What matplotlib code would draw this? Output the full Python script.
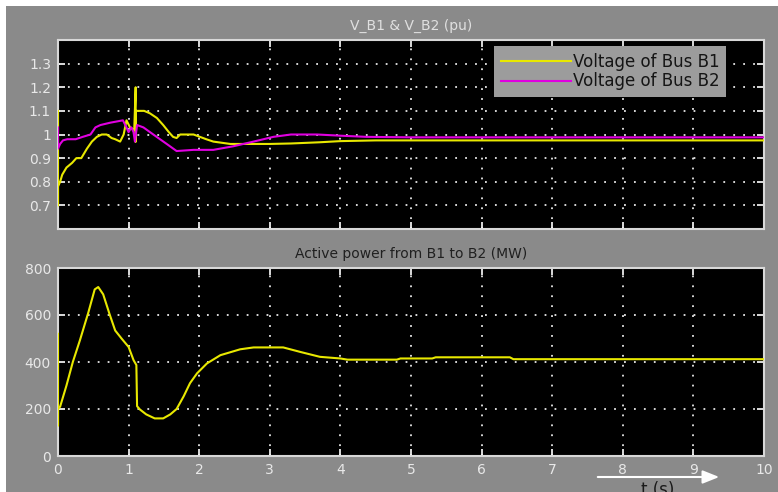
import numpy as np
import matplotlib
matplotlib.use("Agg")
import matplotlib.pyplot as plt
from matplotlib.patches import Rectangle

# voltage of bus B1 (pu)
t_b1 = [0, 0, 0, 0.03, 0.06, 0.12, 0.2, 0.26, 0.33, 0.41, 0.48, 0.55, 0.62, 0.69,
        0.76, 0.81, 0.88, 0.93, 0.97, 1.02, 1.08, 1.1, 1.1, 1.1, 1.12, 1.14, 1.22,
        1.30, 1.40, 1.49, 1.57, 1.63, 1.68, 1.73, 1.84, 1.92, 2.01, 2.1, 2.2, 2.32,
        2.44, 2.6, 3.0, 3.3, 3.7, 4.0, 4.5, 10]
v_b1 = [1.1, 0.7, 0.78, 0.80, 0.83, 0.86, 0.88, 0.90, 0.90, 0.94, 0.97, 0.99, 1.0, 1.0,
        0.985, 0.98, 0.97, 1.0, 1.06, 1.03, 1.02, 1.2, 0.97, 1.1, 1.1, 1.1, 1.1,
        1.09, 1.07, 1.04, 1.01, 0.99, 0.985, 1.0, 1.0, 1.0, 0.99, 0.98, 0.97, 0.965,
        0.96, 0.96, 0.96, 0.962, 0.967, 0.972, 0.975, 0.975]

# voltage of bus B2 (pu)
t_b2 = [0, 0, 0.03, 0.07, 0.13, 0.25, 0.35, 0.46, 0.53, 0.6, 0.74, 0.92, 0.97, 1.0,
        1.04, 1.07, 1.09, 1.12, 1.21, 1.35, 1.54, 1.68, 1.92, 2.2, 2.48, 2.77, 3.05,
        3.3, 3.67, 4.0, 4.37, 5, 10]
v_b2 = [1.03, 0.94, 0.96, 0.975, 0.98, 0.98, 0.99, 1.0, 1.03, 1.04, 1.05, 1.06, 1.03, 1.01,
        1.03, 1.01, 0.97, 1.04, 1.03, 1.0, 0.96, 0.93, 0.935, 0.935, 0.95, 0.97, 0.99,
        1.0, 1.0, 0.995, 0.99, 0.988, 0.988]

# active power B1 -> B2 (MW)
t_p = [0, 0, 0, 0.03, 0.12, 0.21, 0.31, 0.43, 0.52, 0.57, 0.64, 0.73, 0.81, 0.9, 1.0,
       1.07, 1.11, 1.12, 1.16, 1.25, 1.37, 1.49, 1.59, 1.68, 1.78, 1.87, 1.97, 2.11,
       2.3, 2.58, 2.77, 3.19, 3.43, 3.71, 4.0, 4.1, 4.8, 4.85, 5.3, 5.35, 6.4, 6.45, 10]
p = [520, 130, 200, 210, 300, 400, 492, 611, 709, 719, 688, 604, 534, 500, 464,
     408, 387, 212, 198, 177, 160, 160, 177, 200, 254, 310, 352, 394,
     429, 454, 462, 462, 443, 422, 415, 410, 410, 415, 415, 420, 420, 412, 412]

xticks = np.arange(0, 11, 1)
vticks = [0.7, 0.8, 0.9, 1, 1.1, 1.2, 1.3]
vtick_labels = ["0.7", "0.8", "0.9", "1", "1.1", "1.2", "1.3"]
pticks = [0, 200, 400, 600, 800]

W, H = 778, 492
fig = plt.figure(figsize=(W / 100, H / 100), dpi=100)
fig.patch.set_facecolor("white")
fig.patches.append(Rectangle((6 / W, 0), 1 - 6 / W, 1 - 6 / H, transform=fig.transFigure,
                             facecolor="#8a8a8a", edgecolor="none", zorder=-10))

lab_col = "#e8e8e8"


def style(ax):
    ax.set_facecolor("black")
    for s in ax.spines.values():
        s.set_color("#d8d8d8")
        s.set_linewidth(1.5)
    ax.tick_params(direction="in", length=5, width=1.2, color="white",
                   top=True, right=True, labelcolor=lab_col, labelsize=10, pad=5)
    ax.grid(True, color="white", linestyle=(0, (1, 4.5)), linewidth=1.3, alpha=0.9)
    ax.set_xlim(0, 10)
    ax.set_xticks(xticks)


ax1 = fig.add_axes([58 / W, 1 - 229 / H, 706 / W, 189 / H])
ax2 = fig.add_axes([58 / W, 1 - 456 / H, 706 / W, 188 / H])
style(ax1)
style(ax2)

ax1.plot(t_b1, v_b1, color="#e8e800", lw=1.5, label="Voltage of Bus B1", zorder=3)
ax1.plot(t_b2, v_b2, color="#e000e0", lw=1.5, label="Voltage of Bus B2", zorder=3)
ax1.set_ylim(0.6, 1.4)
ax1.set_yticks(vticks)
ax1.set_yticklabels(vtick_labels)
ax1.set_xticklabels([])
ax1.set_title("V_B1 & V_B2 (pu)", fontsize=10, color="#e0e0e0", pad=7)
leg = ax1.legend(loc="upper left", bbox_to_anchor=(0.618, 0.968), borderaxespad=0,
                 frameon=True, fancybox=False, facecolor="#9c9c9c", edgecolor="none",
                 framealpha=1, fontsize=12, handlelength=4.2, handletextpad=0.1,
                 labelspacing=0.1, borderpad=0.4)
for txt in leg.get_texts():
    txt.set_color("#151515")

ax2.plot(t_p, p, color="#e8e800", lw=1.5, zorder=3)
ax2.set_ylim(0, 800)
ax2.set_yticks(pticks)
ax2.set_title("Active power from B1 to B2 (MW)", fontsize=10, color="#202020", pad=7)

ax2.annotate("", xy=(722, H - 477), xytext=(595, H - 477), xycoords="figure pixels",
             textcoords="figure pixels",
             arrowprops=dict(arrowstyle="-|>,head_length=1.0,head_width=0.4",
                             color="white", lw=1.5))
fig.text(658 / W, 11 / H, "t (s)", ha="center", va="top", fontsize=12, color="#1a1a1a")

fig.savefig("out.png", dpi=100, facecolor=fig.get_facecolor())
